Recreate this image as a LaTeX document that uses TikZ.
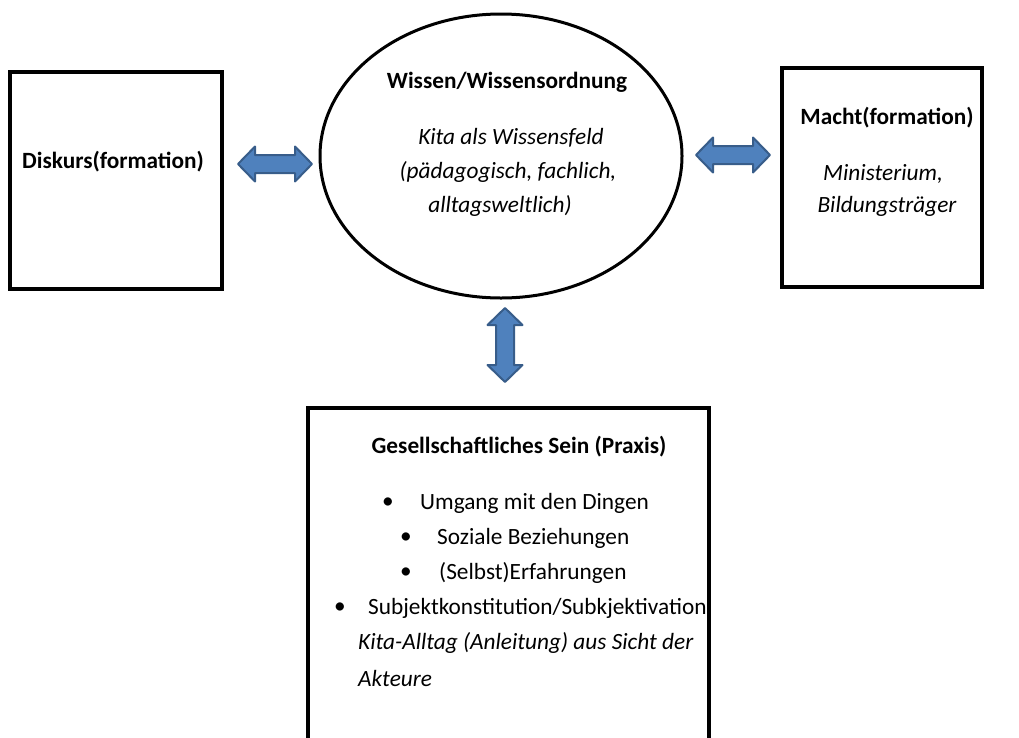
\documentclass[tikz,border=0pt]{standalone}
\usepackage{fontspec}
\setmainfont{Carlito}
\definecolor{arrowfill}{HTML}{4F81BD}
\definecolor{arrowline}{HTML}{385D8A}
\tikzset{
  boxline/.style={draw=black, line width=3.2pt},
  ellline/.style={draw=black, line width=3pt},
  blockarrow/.style={fill=arrowfill, draw=arrowline, line width=2pt, line join=round},
  txt/.style={inner sep=0pt, font=\fontsize{23.3}{28}\selectfont},
  btxt/.style={txt, font=\fontsize{23.3}{28}\selectfont\bfseries},
  itxt/.style={txt, font=\fontsize{23.3}{28}\selectfont\itshape},
  dblarrow/.pic={\draw[blockarrow] (-37,0) -- (-20,-17.5) -- (-20,-9) -- (20,-9) -- (20,-17.5) -- (37,0) -- (20,17.5) -- (20,9) -- (-20,9) -- (-20,17.5) -- cycle;}
}
\begin{document}
\begin{tikzpicture}[x=1pt,y=-1pt]
\useasboundingbox (0,0) rectangle (1019,737);
\clip (0,0) rectangle (1019,737);
% boxes
\draw[boxline] (10,72) rectangle (222,289);
\draw[boxline] (782,68) rectangle (982,287);
\draw[ellline] (501,156) ellipse [x radius=181, y radius=142];
\draw[boxline] (308,760) -- (308,408) -- (709,408) -- (709,760);
% arrows
\pic at (275,164) {dblarrow};
\pic at (733,155) {dblarrow};
\pic[rotate=90] at (505,345) {dblarrow};
% texts
\node[btxt] (disk) at (113,162) {Diskurs(formation)};
\node[btxt] (wiss) at (507,82) {Wissen/Wissensordnung};
\node[itxt] (w1) at (511,138) {Kita als Wissensfeld};
\node[itxt] (w2) at (508,172) {(pädagogisch, fachlich,};
\node[itxt] (w3) at (500,206) {alltagsweltlich)};
\node[btxt] (macht) at (887,118) {Macht(formation)};
\node[itxt] (m1) at (883,174) {Ministerium,};
\node[itxt] (m2) at (887,206) {Bildungsträger};
\node[btxt] (ges) at (519,447) {Gesellschaftliches Sein (Praxis)};
\node[txt] (b1) at (388,503) {•};
\node[txt, anchor=west] (t1) at (420,503) {Umgang mit den Dingen};
\node[txt] (b2) at (406,538) {•};
\node[txt, anchor=west] (t2) at (437,538) {Soziale Beziehungen};
\node[txt] (b3) at (406,573) {•};
\node[txt, anchor=west] (t3) at (439,573) {(Selbst)Erfahrungen};
\node[txt] (b4) at (340,608) {•};
\node[txt, anchor=west] (t4) at (368,608) {Subjektkonstitution/Subkjektivation};
\node[itxt, anchor=west] (k1) at (358,643) {Kita-Alltag (Anleitung) aus Sicht der};
\node[itxt, anchor=west] (k2) at (358,678) {Akteure};
\end{tikzpicture}
\end{document}
